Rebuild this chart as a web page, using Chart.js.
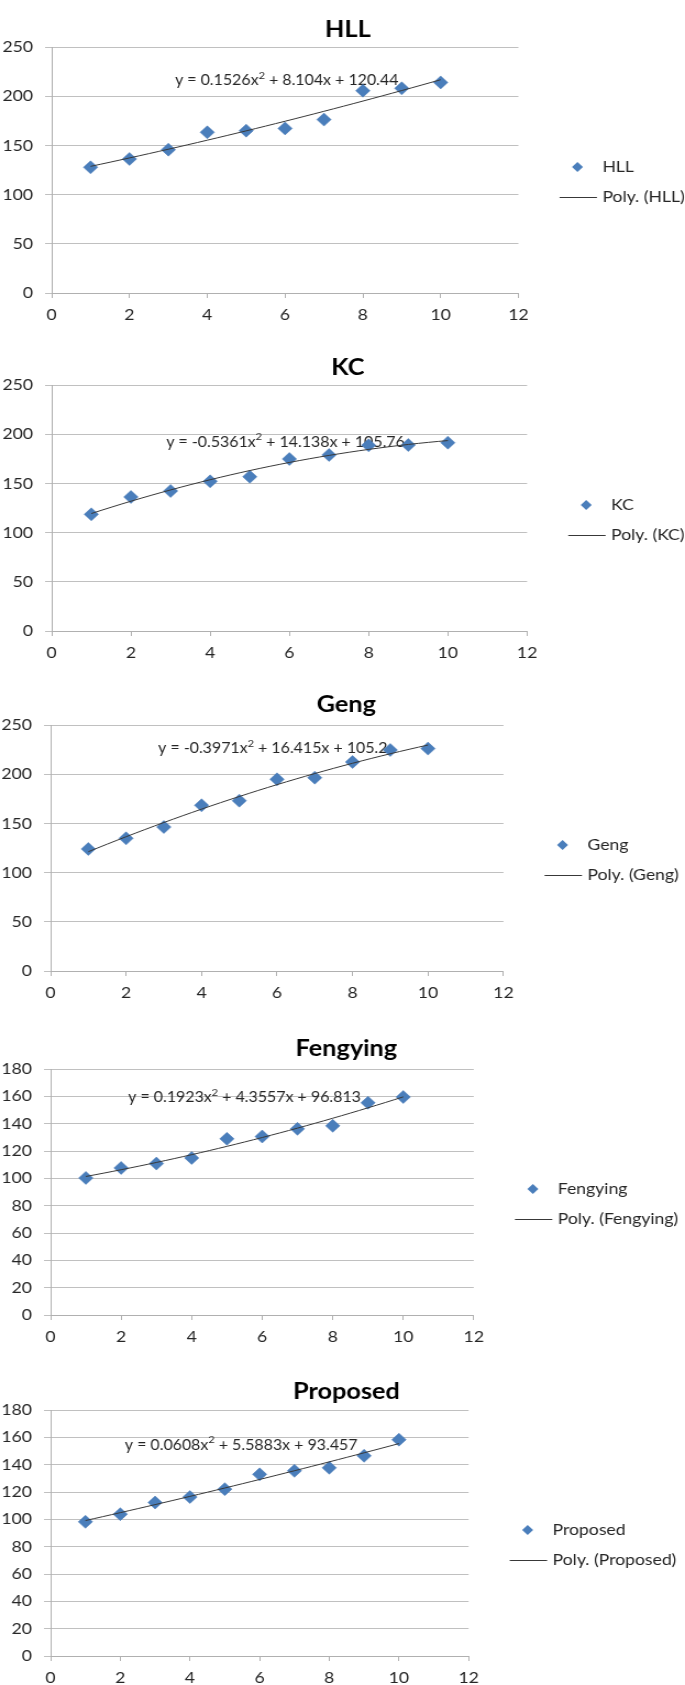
<!DOCTYPE html>
<html><head><meta charset="utf-8">
<script src="https://cdn.jsdelivr.net/npm/chart.js@4/dist/chart.umd.min.js"></script>
<style>
html,body{margin:0;padding:0;background:#fff;}
body{width:685px;height:1685px;position:relative;overflow:hidden;}
canvas{position:absolute;left:0;}
</style></head><body>
<script>
// ---- data ----
const xValues = [1, 2, 3, 4, 5, 6, 7, 8, 9, 10];
const hllValues = [127.7, 136.2, 145.7, 163.3, 165.0, 167.3, 176.2, 205.6, 208.0, 214.0];
const kcValues = [118.6, 136.2, 142.3, 152.1, 156.8, 174.8, 178.9, 188.7, 189.0, 191.4];
const gengValues = [124.0, 134.8, 146.3, 168.4, 173.1, 194.8, 196.5, 212.4, 224.6, 226.0];
const fengyingValues = [100.3, 107.6, 110.8, 114.9, 128.9, 130.6, 136.2, 138.4, 155.3, 159.5];
const proposedValues = [98.2, 103.8, 112.3, 116.3, 122.1, 132.9, 135.5, 137.7, 146.5, 158.3];
// trendline coefficients shown on the chart: [a, b, c] for y = a x^2 + b x + c
const hllCoef = [0.1526, 8.104, 120.44];
const kcCoef = [-0.5361, 14.138, 105.76];
const gengCoef = [-0.3971, 16.415, 105.2];
const fengyingCoef = [0.1923, 4.3557, 96.813];
const proposedCoef = [0.0608, 5.5883, 93.457];
const seriesNames = ['HLL', 'KC', 'Geng', 'Fengying', 'Proposed'];
const xTickRange = [0, 12, 2];          // min, max, step
const yTickRangeA = [0, 250, 50];
const yTickRangeB = [0, 180, 20];

// ---- layout ----
const FONT = "Lato, 'Open Sans', sans-serif";
const LW = 623, SX = 685 / LW;
const PLOT_TOP = 47, PLOT_H = 246;

const panels = [
  {name: seriesNames[0], values: hllValues, coef: hllCoef, yr: yTickRangeA, top: 0, h: 330, left: 47, right: 471.5, titleX: 316.4, titleY: 30, eqAt: [3.17, 215.8]},
  {name: seriesNames[1], values: kcValues, coef: kcCoef, yr: yTickRangeA, top: 338, h: 330, left: 47, right: 479.4, titleX: 316.4, titleY: 30, eqAt: [2.89, 192]},
  {name: seriesNames[2], values: gengValues, coef: gengCoef, yr: yTickRangeA, top: 678, h: 330, left: 46, right: 457.9, titleX: 315, titleY: 26.5, eqAt: [2.85, 226]},
  {name: seriesNames[3], values: fengyingValues, coef: fengyingCoef, yr: yTickRangeB, top: 1022, h: 330, left: 46, right: 430.9, titleX: 315, titleY: 26.5, eqAt: [2.2, 159.2]},
  {name: seriesNames[4], values: proposedValues, coef: proposedCoef, yr: yTickRangeB, top: 1363, h: 322, left: 46, right: 426.2, titleX: 315, titleY: 28.5, eqAt: [2.13, 154.4]}
];

const BLUE = '#4a7ebb';
const TREND = '#383838';
const TXT = '#262626';

function fmt(v) { return v < 0 ? '-' + Math.abs(v) : '' + v; }

function drawEquation(ctx, c, x, y) {
  // y = a x² + b x + c, with a raised "2"
  const base = '14.5px ' + FONT, sup = '10px ' + FONT;
  const parts = [
    [base, 'y = ' + fmt(c[0]) + 'x', 0],
    [sup, '2', -5],
    [base, ' + ' + fmt(c[1]) + 'x + ' + fmt(c[2]), 0]
  ];
  let cx = x;
  parts.forEach(([f, t, dy]) => {
    ctx.font = f;
    ctx.fillText(t, cx, y + dy);
    cx += ctx.measureText(t).width;
  });
}

function diamond(ctx, x, y, r) {
  ctx.beginPath();
  ctx.moveTo(x - r, y); ctx.lineTo(x, y - r); ctx.lineTo(x + r, y); ctx.lineTo(x, y + r);
  ctx.closePath(); ctx.fill();
}

panels.forEach(p => {
  const cv = document.createElement('canvas');
  cv.width = LW; cv.height = p.h;
  cv.style.width = '685px'; cv.style.height = p.h + 'px'; cv.style.top = p.top + 'px';
  document.body.appendChild(cv);

  const pts = xValues.map((x, i) => ({x: x, y: p.values[i]}));
  const trend = [];
  for (let x = xValues[0]; x <= xValues[xValues.length - 1] + 1e-9; x += 0.25) {
    trend.push({x: x, y: p.coef[0] * x * x + p.coef[1] * x + p.coef[2]});
  }

  const decor = {
    id: 'decor' + p.name,
    beforeDatasetsDraw(chart) {
      const ctx = chart.ctx;
      ctx.save();
      ctx.fillStyle = TXT;
      ctx.textAlign = 'left'; ctx.textBaseline = 'middle';
      drawEquation(ctx, p.coef, chart.scales.x.getPixelForValue(p.eqAt[0]), chart.scales.y.getPixelForValue(p.eqAt[1]));
      ctx.restore();
    },
    afterDraw(chart) {
      const ctx = chart.ctx, a = chart.chartArea;
      ctx.save();
      // title
      ctx.font = 'bold 23px ' + FONT;
      ctx.fillStyle = '#000';
      ctx.textAlign = 'center'; ctx.textBaseline = 'middle';
      ctx.fillText(p.name, p.titleX, p.titleY);
      // legend
      const mid = (a.top + a.bottom) / 2;
      const tx = a.right + 76.4;
      ctx.fillStyle = BLUE;
      diamond(ctx, tx - 22.7, mid - 3, 5);
      ctx.strokeStyle = TREND; ctx.lineWidth = 1;
      ctx.beginPath(); ctx.moveTo(tx - 39, mid + 27.5); ctx.lineTo(tx - 5, mid + 27.5); ctx.stroke();
      ctx.font = '16px ' + FONT;
      ctx.fillStyle = TXT;
      ctx.textAlign = 'left'; ctx.textBaseline = 'middle';
      ctx.fillText(p.name, tx, mid - 3);
      ctx.fillText('Poly. (' + p.name + ')', tx, mid + 27);
      ctx.restore();
    }
  };

  new Chart(cv, {
    type: 'scatter',
    data: {
      datasets: [
        {label: 'Poly. (' + p.name + ')', data: trend, showLine: true, pointRadius: 0, borderColor: TREND, borderWidth: 1, order: 0},
        {label: p.name, data: pts, pointStyle: 'rectRot', pointRadius: 6.5, pointHoverRadius: 6.5, backgroundColor: BLUE, borderColor: '#4577b4', borderWidth: 0.5, order: 1}
      ]
    },
    options: {
      responsive: false, animation: false, devicePixelRatio: 1,
      layout: {padding: {top: PLOT_TOP, left: 0, bottom: 0, right: LW - p.right}},
      plugins: {legend: {display: false}, tooltip: {enabled: false}, title: {display: false}},
      scales: {
        x: {
          type: 'linear', min: xTickRange[0], max: xTickRange[1],
          ticks: {stepSize: xTickRange[2], color: TXT, font: {family: FONT, size: 16}, padding: 7, maxRotation: 0},
          grid: {drawOnChartArea: false, drawTicks: true, tickLength: 5, color: '#b0b0b0'},
          border: {color: '#b0b0b0'},
          afterFit(s) { s.height = p.h - PLOT_TOP - PLOT_H; }
        },
        y: {
          type: 'linear', min: p.yr[0], max: p.yr[1],
          ticks: {stepSize: p.yr[2], color: TXT, font: {family: FONT, size: 16}, padding: 11},
          grid: {color: '#c0c0c0', tickLength: 6},
          border: {color: '#b0b0b0'},
          afterFit(s) { s.width = p.left; }
        }
      }
    },
    plugins: [decor]
  });
});
</script>
</body></html>
